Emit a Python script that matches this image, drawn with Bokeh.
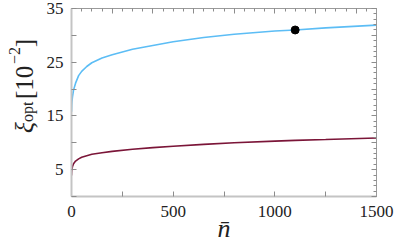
import math
from bokeh.plotting import figure
from bokeh.layouts import row
from bokeh.models import LinearAxis, FixedTicker, Range1d
from bokeh.core.properties import value
from bokeh.embed import file_html
from bokeh.resources import INLINE

# ---- data ----
nbar = [0, 1, 2, 5, 10, 20, 35, 50, 75, 100, 150, 200, 300, 400, 500, 650, 800, 1000, 1100, 1250, 1500]
xi_blue = [15.8, 17.0, 17.6, 18.6, 19.8, 21.1, 22.5, 23.3, 24.2, 24.9, 25.8, 26.4, 27.4, 28.1, 28.8, 29.6, 30.2, 30.8, 31.0, 31.4, 31.9]
xi_red = [3.9, 4.6, 5.0, 5.6, 6.1, 6.6, 7.0, 7.3, 7.6, 7.85, 8.15, 8.4, 8.8, 9.1, 9.35, 9.7, 10.0, 10.3, 10.45, 10.6, 10.9]
dot_n = [1100]
dot_xi = [31.0]

x_ticks = [0, 250, 500, 750, 1000, 1250, 1500]
x_labels = {0: "0", 500: "500", 1000: "1000", 1500: "1500"}
y_ticks = [0, 5, 10, 15, 20, 25, 30, 35]
y_labels = {5: "5", 15: "15", 25: "25", 35: "35"}
top_major = [0, 200, 400, 600, 800, 1000, 1200, 1400]
top_minor = list(range(0, 1501, 50))
right_minor = list(range(0, 36, 1))

# y-axis title pieces
ytitle_parts = ["\u03be", "opt", "[10", "\u22122", "]"]

FONT = "Liberation Serif"
AXC = "#c4c4c4"
TKC = "#8c8c8c"
LW = 40  # width of the strip holding the y title

p = figure(width=395 - LW, height=247, frame_width=305, frame_height=188,
           x_range=Range1d(0, 1500), y_range=Range1d(0, 35),
           output_backend="svg", toolbar_location=None,
           x_axis_location=None, y_axis_location=None,
           min_border_left=71 - LW, min_border_right=19, min_border_top=8, min_border_bottom=51)
p.grid.visible = False
p.outline_line_color = None
p.background_fill_color = "white"
p.border_fill_color = "white"

def mk_axis(ticks, minor, labels, lw, lc):
    ax = LinearAxis(ticker=FixedTicker(ticks=ticks, minor_ticks=minor))
    ax.axis_line_color = lc
    ax.axis_line_width = lw
    ax.major_tick_line_color = TKC
    ax.minor_tick_line_color = TKC
    ax.major_tick_in = 5
    ax.major_tick_out = 0
    ax.minor_tick_in = 3
    ax.minor_tick_out = 0
    ax.major_label_overrides = {t: (labels or {}).get(t, "") for t in ticks}
    ax.major_label_text_font = FONT
    ax.major_label_text_font_size = "17px"
    ax.major_label_text_color = "#222222"
    if labels is None:
        ax.major_label_standoff = 0
    return ax

bottom = mk_axis(x_ticks, [], x_labels, 2, AXC)
bottom.major_label_standoff = 9
bottom.axis_label = "n\u0304"
bottom.axis_label_text_font = FONT
bottom.axis_label_text_font_style = "italic"
bottom.axis_label_text_font_size = "26px"
bottom.axis_label_text_color = "#222222"
bottom.axis_label_standoff = -6
p.add_layout(bottom, "below")

left = mk_axis(y_ticks, [], y_labels, 2, AXC)
left.major_label_standoff = 8
p.add_layout(left, "left")

top = mk_axis(top_major, top_minor, None, 1, "#9a9a9a")
p.add_layout(top, "above")
right = mk_axis(y_ticks, right_minor, None, 1, "#9a9a9a")
p.add_layout(right, "right")

p.line(nbar, xi_blue, line_color="#5cbdf5", line_width=1.6)
p.line(nbar, xi_red, line_color="#7b1538", line_width=1.6)
p.scatter(dot_n, dot_xi, size=8, color="black")

# strip on the left carrying the y-axis title (data units = page pixels)
q = figure(width=LW, height=247, x_range=Range1d(0, LW), y_range=Range1d(247, 0),
           output_backend="svg", toolbar_location=None,
           x_axis_location=None, y_axis_location=None,
           min_border=0, min_border_left=0, min_border_right=0,
           min_border_top=0, min_border_bottom=0)
q.grid.visible = False
q.outline_line_color = None
q.background_fill_color = "white"
q.border_fill_color = "white"

# (baseline x, start y, size, style) for each piece
pos = [(24, 164, 26, "italic"), (27, 149, 16, "normal"), (24, 119, 25, "normal"),
       (14, 73, 16, "normal"), (24, 51, 25, "normal")]
for txt, (bx, sy, sz, st) in zip(ytitle_parts, pos):
    q.text(x=[bx], y=[sy], text=[txt], angle=math.pi / 2,
           text_align="left", text_baseline="alphabetic",
           text_font=value(FONT), text_font_size=f"{sz}px",
           text_font_style=st, text_color="#222222")

layout = row(q, p, spacing=0)
open("out.html", "w").write(file_html(layout, INLINE))
